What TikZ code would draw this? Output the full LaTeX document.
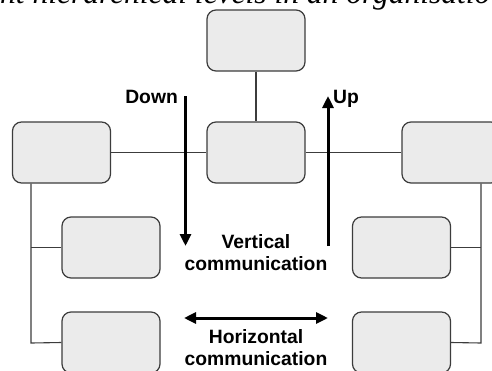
\documentclass[tikz,border=0pt]{standalone}
\usepackage{fontspec}
\setmainfont{Liberation Serif}
\newfontfamily\labelfont{Liberation Sans}
\usetikzlibrary{arrows.meta}
\definecolor{boxfill}{HTML}{EBEBEB}
\definecolor{boxline}{HTML}{3C3C3C}
\tikzset{
  unitbox/.style={draw=boxline, fill=boxfill, line width=1.2pt, rounded corners=9pt,
    minimum width=98pt, minimum height=61pt, inner sep=0pt},
  link/.style={draw=boxline, line width=1.1pt},
  flow/.style={draw=black, line width=3pt,
    -{Triangle[length=12pt,width=11pt]}},
  flowboth/.style={draw=black, line width=3pt,
    {Triangle[length=12pt,width=11pt]}-{Triangle[length=12pt,width=11pt]}},
  caption/.style={font=\labelfont\bfseries\fontsize{19.3}{21.5}\selectfont,
    inner sep=0pt, align=center}
}
\begin{document}
\begin{tikzpicture}[x=1pt,y=-1pt]
\clip (0,0) rectangle (492,370);
\fill[white] (0,0) rectangle (492,370);

% heading line of the surrounding text
\node[anchor=base west, inner sep=0pt, font=\itshape\fontsize{31.5}{36}\selectfont] (head) at (0,3)
  {nt hierarchical levels in an organisatio};

% units of the organisation
\node[unitbox] (top) at (256,40.5) {};
\node[unitbox] (mid) at (256,152.5) {};
\node[unitbox] (lft) at (61.5,152.5) {};
\node[unitbox] (rgt) at (451,152.5) {};
\node[unitbox] (l1) at (111,247.5) {};
\node[unitbox] (l2) at (111,342.5) {};
\node[unitbox] (r1) at (401.5,247.5) {};
\node[unitbox] (r2) at (401.5,342.5) {};

% tree lines
\coordinate (lt) at (31,343);
\coordinate (rt) at (481,343);
\draw[link] (top.south) -- (mid.north);
\draw[link] (lft.east) -- (mid.west);
\draw[link] (mid.east) -- (rgt.west);
\draw[link] (lft.south -| lt) -- (lt) -- (l2.west);
\draw[link] (l1.west) -- (l1.west -| lt);
\draw[link] (rgt.south -| rt) -- (rt) -- (r2.east);
\draw[link] (r1.east) -- (r1.east -| rt);

% flow arrows
\coordinate (d1) at (185.5,96);
\coordinate (d2) at (185.5,246);
\coordinate (u1) at (328,246);
\coordinate (u2) at (328,96);
\coordinate (h1) at (184,318);
\coordinate (h2) at (328,318);
\draw[flow] (d1) -- (d2);
\draw[flow] (u1) -- (u2);
\draw[flowboth] (h1) -- (h2);

% labels (anchored on the baseline of the last line)
\node[caption, anchor=base east] (down) at (178,103) {Down};
\node[caption, anchor=base west] (up) at (333,103) {Up};
\node[caption, anchor=base] (vert) at (256,270) {Vertical\\communication};
\node[caption, anchor=base] (horz) at (256,365) {Horizontal\\communication};
\end{tikzpicture}
\end{document}
